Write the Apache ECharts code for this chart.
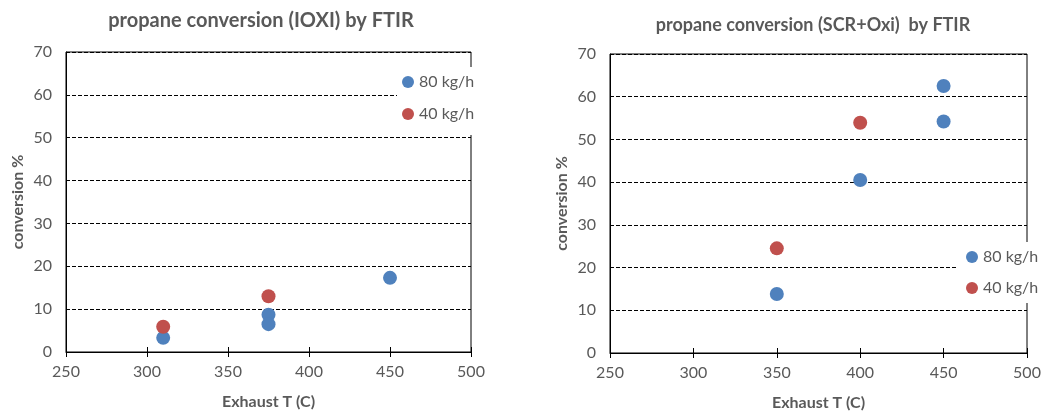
<!DOCTYPE html>
<html lang="en">
<head>
    <meta charset="UTF-8">
    <title>propane conversion</title>
    <script src="https://cdn.jsdelivr.net/npm/echarts@6/dist/echarts.min.js"></script>
    <style>
        html, body { margin: 0; padding: 0; background: #fff; }
        #main { width: 1048px; height: 414px; }
    </style>
</head>
<body>
<div id="main"></div>
<script>
    // IOXI chart data (exhaust T in C, conversion %)
    var ioxiTemp80 = [310, 375, 375, 450];
    var ioxiConv80 = [3.3, 8.7, 6.5, 17.3];
    var ioxiTemp40 = [310, 375];
    var ioxiConv40 = [5.9, 13.0];

    // SCR+Oxi chart data
    var scrTemp80 = [350, 400, 450, 450];
    var scrConv80 = [13.8, 40.5, 54.2, 62.5];
    var scrTemp40 = [350, 400];
    var scrConv40 = [24.5, 53.9];

    var seriesNames = ['80 kg/h', '40 kg/h'];
    var titles = ['propane conversion (IOXI) by FTIR', 'propane conversion (SCR+Oxi)  by FTIR'];

    var blue = '#4F81BD';
    var red = '#C0504D';
    var grey = '#595959';
    var font = 'Lato';

    function pairs(xs, ys) {
        return xs.map(function (x, i) { return [x, ys[i]]; });
    }

    function xAxisFor(gridIndex) {
        return {
            type: 'value', gridIndex: gridIndex, min: 250, max: 500, interval: 50,
            name: 'Exhaust T (C)', nameLocation: 'middle', nameGap: 42,
            nameTextStyle: { color: grey, fontSize: 16, fontWeight: 'bold', fontFamily: font },
            axisLine: { show: true, lineStyle: { color: '#000', width: 1 } },
            axisTick: { show: true, inside: false, length: 5, lineStyle: { color: '#000' } },
            axisLabel: { color: grey, fontSize: 16, fontFamily: font, margin: 12 },
            splitLine: { show: false }
        };
    }
    // second x axis only draws the upper half of the crossing ticks
    function tickAxisFor(gridIndex) {
        return {
            type: 'value', gridIndex: gridIndex, min: 250, max: 500, interval: 50, position: 'bottom',
            axisLine: { show: false },
            axisTick: { show: true, inside: true, length: 5, lineStyle: { color: '#000' } },
            axisLabel: { show: false },
            splitLine: { show: false }
        };
    }
    function yAxisFor(gridIndex) {
        return {
            type: 'value', gridIndex: gridIndex, min: 0, max: 70, interval: 10,
            name: 'conversion %', nameLocation: 'middle', nameGap: 40,
            nameTextStyle: { color: grey, fontSize: 16, fontWeight: 'bold', fontFamily: font },
            axisLine: { show: true, lineStyle: { color: '#000', width: 1 } },
            axisTick: { show: false },
            axisLabel: { color: grey, fontSize: 16, fontFamily: font, margin: 14 },
            splitLine: { show: true, lineStyle: { color: '#000', type: [4, 2], width: 1 } }
        };
    }
    function scatter(name, xi, yi, data, color) {
        return {
            name: name, type: 'scatter', xAxisIndex: xi, yAxisIndex: yi,
            data: data, symbol: 'circle', symbolSize: 14,
            itemStyle: { color: color, opacity: 1 },
            emphasis: { disabled: true }, z: 3
        };
    }

    var myChart = echarts.init(document.getElementById('main'));
    var option = {
        animation: false,
        color: [blue, red],
        title: [
            { text: titles[0], left: 256, top: 6, textAlign: 'center',
              textStyle: { color: grey, fontSize: 20, fontWeight: 'bold', fontFamily: font } },
            { text: titles[1], left: 808, top: 11, textAlign: 'center',
              textStyle: { color: grey, fontSize: 18, fontWeight: 'bold', fontFamily: font } }
        ],
        grid: [
            { left: 66, top: 52, width: 405, height: 300, show: true, borderColor: '#000', borderWidth: 1,
              backgroundColor: 'transparent', containLabel: false, outerBoundsMode: 'none' },
            { left: 610, top: 54, width: 417, height: 299, show: true, borderColor: '#000', borderWidth: 1,
              backgroundColor: 'transparent', containLabel: false, outerBoundsMode: 'none' }
        ],
        xAxis: [xAxisFor(0), xAxisFor(1), tickAxisFor(0), tickAxisFor(1)],
        yAxis: [yAxisFor(0), yAxisFor(1)],
        legend: [
            { data: seriesNames, orient: 'vertical', left: 397, top: 67, itemGap: 14,
              icon: 'circle', itemWidth: 12, itemHeight: 12, backgroundColor: '#fff',
              padding: [6, 4, 12, 5], selectedMode: false,
              textStyle: { color: grey, fontSize: 16, fontFamily: font, lineHeight: 18 } },
            { data: seriesNames, orient: 'vertical', left: 956, top: 242, itemGap: 13,
              icon: 'circle', itemWidth: 12, itemHeight: 12, backgroundColor: '#fff',
              padding: [6, 14, 6, 10], selectedMode: false,
              textStyle: { color: grey, fontSize: 16, fontFamily: font, lineHeight: 18 } }
        ],
        series: [
            scatter(seriesNames[0], 0, 0, pairs(ioxiTemp80, ioxiConv80), blue),
            scatter(seriesNames[1], 0, 0, pairs(ioxiTemp40, ioxiConv40), red),
            scatter(seriesNames[0], 1, 1, pairs(scrTemp80, scrConv80), blue),
            scatter(seriesNames[1], 1, 1, pairs(scrTemp40, scrConv40), red)
        ]
    };
    myChart.setOption(option);
</script>
</body>
</html>
